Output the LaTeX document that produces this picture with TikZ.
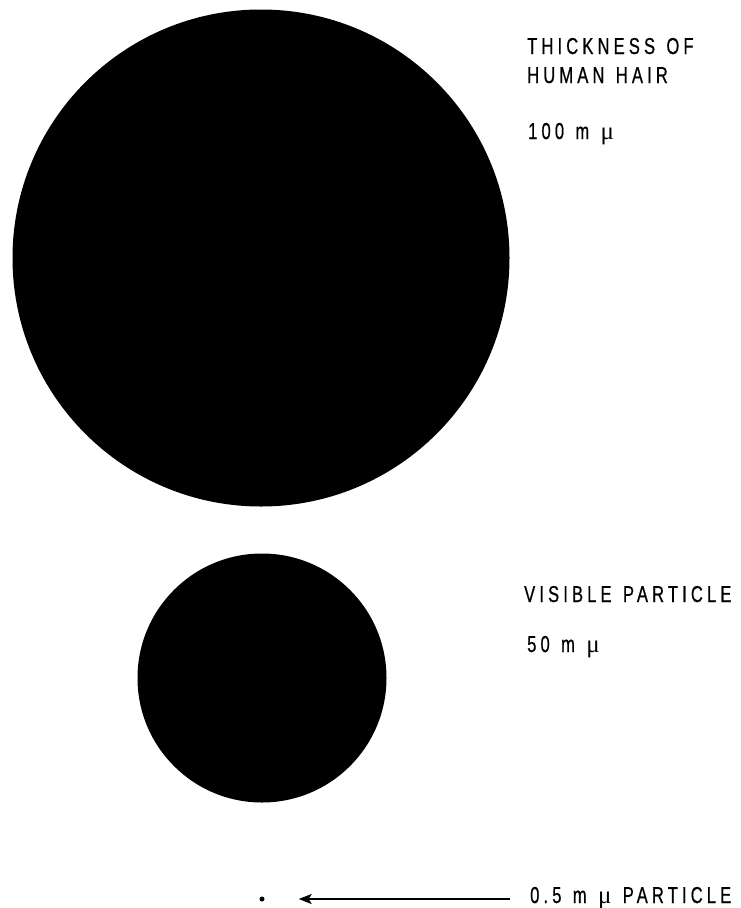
\documentclass[tikz,border=0pt]{standalone}
\usepackage{fontspec}
\newfontfamily\lab{Liberation Sans}[FakeStretch=0.72,LetterSpace=18,WordSpace=1.3,FakeBold=0.6]
\newfontfamily\mufont{Liberation Serif}
\newcommand{\mymu}{{\mufont\fontsize{25}{25}\selectfont μ}}
\usetikzlibrary{arrows.meta}
\tikzset{
  disc/.style={circle, fill=black, draw=none, inner sep=0pt},
  label/.style={anchor=base west, inner sep=0pt, font=\lab\fontsize{23}{28}\selectfont},
  pointer/.style={line width=2pt, -{Stealth[length=13pt,width=10pt,inset=3pt]}}
}
\begin{document}
\begin{tikzpicture}[x=1pt,y=-1pt]
\useasboundingbox (0,0) rectangle (741,908);
\node[disc, minimum size=497pt] (hair) at (261,258) {};
\node[disc, minimum size=249pt] (visible) at (262,678) {};
\node[disc, minimum size=5pt] (dot) at (262,899) {};
\node[label] (t1) at (527,54) {THICKNESS OF};
\node[label] (t2) at (527,83) {HUMAN HAIR};
\node[label] (t3) at (528,139) {100 m \mymu};
\node[label] (v1) at (524,602) {VISIBLE PARTICLE};
\node[label] (v2) at (527,652) {50 m \mymu};
\node[label] (p1) at (530,903) {0.5 m \mymu\ PARTICLE};
\draw[pointer, shorten <=20pt, shorten >=34pt] (dot -| p1.west) -- (dot);
\end{tikzpicture}
\end{document}
